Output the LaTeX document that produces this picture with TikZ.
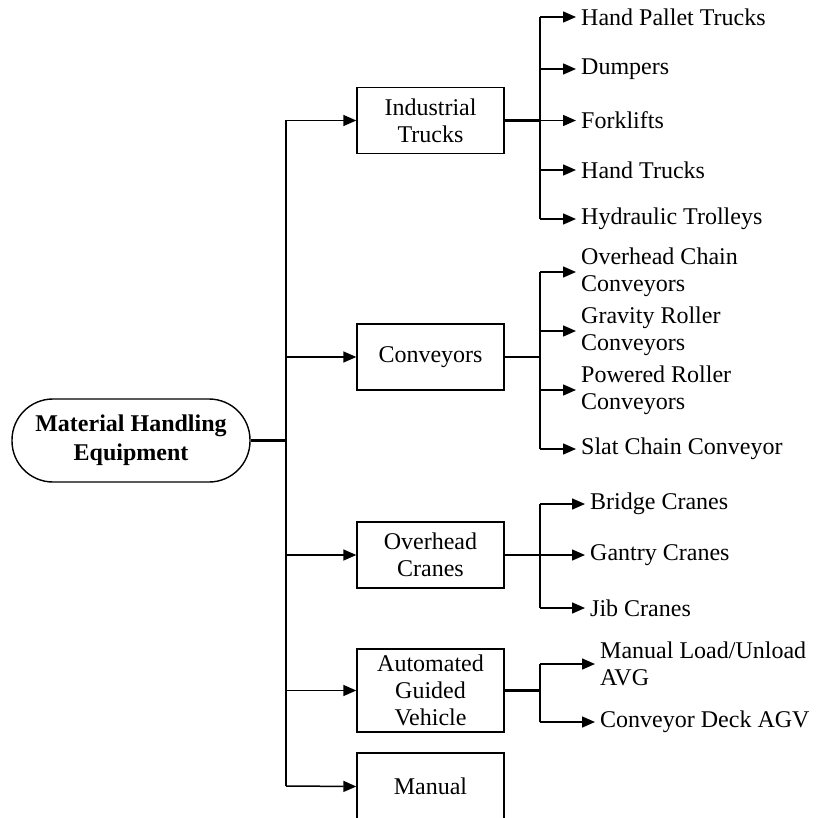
\documentclass[tikz,border=0pt]{standalone}
\usepackage{fontspec}
\setmainfont{Liberation Serif}
\usetikzlibrary{arrows.meta}
\begin{document}
\begin{tikzpicture}[x=1pt,y=-1pt,
  every node/.style={font=\fontsize{24}{27}\selectfont},
  box/.style={draw, line width=1.4pt, minimum width=147pt, minimum height=66pt,
              align=center, inner sep=0pt},
  rootbox/.style={draw, line width=1.4pt, rounded corners=41pt, minimum width=238pt,
              minimum height=83pt, align=center, inner sep=0pt,
              font=\fontsize{24}{29}\selectfont\bfseries},
  leaf/.style={anchor=west, align=left, inner xsep=5pt, inner ysep=0pt},
  link/.style={line width=1.5pt},
  feed/.style={line width=2.2pt},
  arr/.style={line width=1.5pt, -{Triangle[length=13pt,width=11pt]}},
]
\useasboundingbox (0,0) rectangle (815,818);

% root and main categories
\node[rootbox] (root) at (131,440.5) {Material Handling\\Equipment};
\node[box] (ind) at (430.5,120.5) {Industrial\\Trucks};
\node[box] (con) at (430.5,357) {Conveyors};
\node[box] (ovh) at (430.5,555) {Overhead\\Cranes};
\node[box, minimum height=83pt] (agv) at (430.5,690.5) {Automated\\Guided\\Vehicle};
\node[box, minimum height=67pt] (man) at (430.5,786.5) {Manual};

% trunk
\coordinate (tr) at (286,440.5);
\coordinate (t1) at (286,120.5);
\coordinate (t2) at (286,357);
\coordinate (t3) at (286,555);
\coordinate (t4) at (286,690.5);
\coordinate (t5) at (286,786);
\draw[feed] (root.east) -- (tr);
\draw[link] (t1) -- (t5);
\draw[arr] (t1) -- (ind.west);
\draw[arr] (t2) -- (con.west);
\draw[arr] (t3) -- (ovh.west);
\draw[arr] (t4) -- (agv.west);
\draw[arr] (t5) -- (man.west);

% industrial trucks
\node[leaf] (i1) at (576,17) {Hand Pallet Trucks};
\node[leaf] (i2) at (576,69) {Dumpers};
\node[leaf] (i3) at (576,120.5) {Forklifts};
\node[leaf] (i4) at (576,170) {Hand Trucks};
\node[leaf] (i5) at (576,219) {Hydraulic Trolleys};
\coordinate (is1) at (540,17);
\coordinate (is2) at (540,69);
\coordinate (is3) at (540,120.5);
\coordinate (is4) at (540,170);
\coordinate (is5) at (540,219);
\draw[feed] (ind.east) -- (is3);
\draw[link] (is1) -- (is5);
\foreach \k in {1,...,5} \draw[arr] (is\k) -- (i\k.west);

% conveyors
\node[leaf] (c1) at (576,272) {Overhead Chain\\Conveyors};
\node[leaf] (c2) at (576,331) {Gravity Roller\\Conveyors};
\node[leaf] (c3) at (576,390) {Powered Roller\\Conveyors};
\node[leaf] (c4) at (576,449) {Slat Chain Conveyor};
\coordinate (cs0) at (540,357);
\coordinate (cs1) at (540,272);
\coordinate (cs2) at (540,331);
\coordinate (cs3) at (540,390);
\coordinate (cs4) at (540,449);
\draw[feed] (con.east) -- (cs0);
\draw[link] (cs1) -- (cs4);
\foreach \k in {1,...,4} \draw[arr] (cs\k) -- (c\k.west);

% overhead cranes
\node[leaf] (o1) at (585,504) {Bridge Cranes};
\node[leaf] (o2) at (585,555) {Gantry Cranes};
\node[leaf] (o3) at (585,608) {Jib Cranes};
\coordinate (os1) at (540,504);
\coordinate (os2) at (540,555);
\coordinate (os3) at (540,608);
\draw[feed] (ovh.east) -- (os2);
\draw[link] (os1) -- (os3);
\foreach \k in {1,...,3} \draw[arr] (os\k) -- (o\k.west);

% automated guided vehicle
\node[leaf] (a1) at (595,664) {Manual Load/Unload\\AVG};
\node[leaf] (a2) at (595,722) {Conveyor Deck AGV};
\coordinate (as0) at (540,690.5);
\coordinate (as1) at (540,664);
\coordinate (as2) at (540,722);
\draw[feed] (agv.east) -- (as0);
\draw[link] (as1) -- (as2);
\foreach \k in {1,2} \draw[arr] (as\k) -- (a\k.west);
\end{tikzpicture}
\end{document}
